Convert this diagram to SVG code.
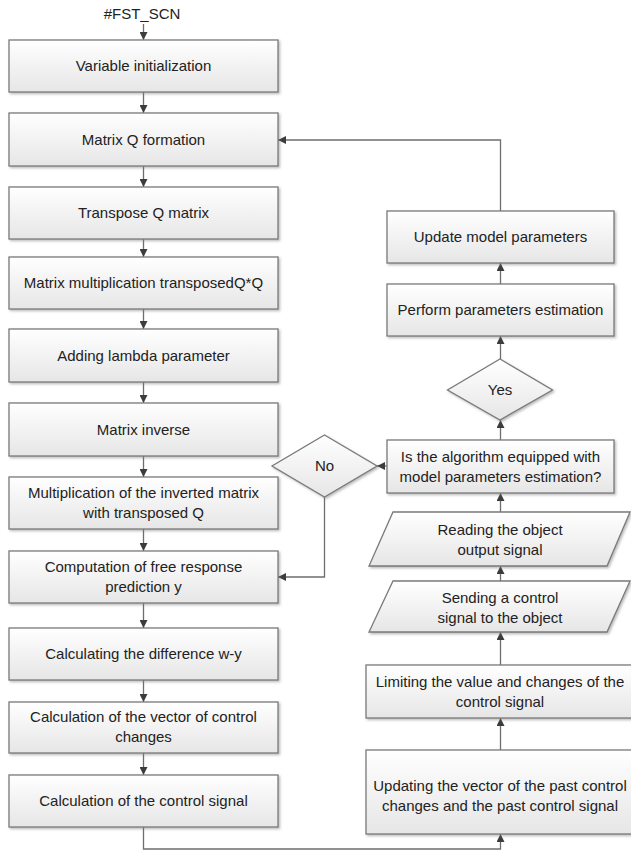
<svg xmlns="http://www.w3.org/2000/svg" width="631" height="851" viewBox="0 0 631 851">
<style>
.b{fill:url(#g);stroke:#7a7a7a;stroke-width:1.3;filter:url(#s)}
.t{font-family:"Liberation Sans",Arial,sans-serif;font-size:15px;fill:#222;text-anchor:middle}
.c{fill:none;stroke:#6e6e6e;stroke-width:1.3}
</style>
<defs>
<linearGradient id="g" x1="0" y1="0" x2="0" y2="1">
<stop offset="0" stop-color="#ffffff"/>
<stop offset="1" stop-color="#e6e6e6"/>
</linearGradient>
<filter id="s" x="-5%" y="-10%" width="115%" height="130%">
<feDropShadow dx="1.5" dy="1.5" stdDeviation="0.8" flood-color="#777" flood-opacity="0.5"/>
</filter>
<marker id="a" viewBox="0 0 10 10" refX="10" refY="5" markerWidth="8" markerHeight="8" markerUnits="userSpaceOnUse" orient="auto">
<path d="M0,0 L10,5 L0,10 z" fill="#3c3c3c"/>
</marker>
</defs>
<text class="t" x="142" y="19">#FST_SCN</text>
<g id="connectors">
<path class="c" d="M143.5,24 V40" marker-end="url(#a)"/>
<path class="c" d="M143.5,92 V113" marker-end="url(#a)"/>
<path class="c" d="M143.5,166 V187" marker-end="url(#a)"/>
<path class="c" d="M143.5,239 V257" marker-end="url(#a)"/>
<path class="c" d="M143.5,309 V329" marker-end="url(#a)"/>
<path class="c" d="M143.5,382 V403" marker-end="url(#a)"/>
<path class="c" d="M143.5,456 V477" marker-end="url(#a)"/>
<path class="c" d="M143.5,529 V551" marker-end="url(#a)"/>
<path class="c" d="M143.5,603 V628" marker-end="url(#a)"/>
<path class="c" d="M143.5,680 V702" marker-end="url(#a)"/>
<path class="c" d="M143.5,753 V775" marker-end="url(#a)"/>
<path class="c" d="M143.5,827 V849 H500.5 V834" marker-end="url(#a)"/>
<path class="c" d="M500.5,750 V718" marker-end="url(#a)"/>
<path class="c" d="M500.5,665 V632" marker-end="url(#a)"/>
<path class="c" d="M500.5,581 V566" marker-end="url(#a)"/>
<path class="c" d="M500.5,512 V493" marker-end="url(#a)"/>
<path class="c" d="M500.5,440 V420" marker-end="url(#a)"/>
<path class="c" d="M500.5,359 V336" marker-end="url(#a)"/>
<path class="c" d="M500.5,284 V263" marker-end="url(#a)"/>
<path class="c" d="M500.5,211 V140 H278" marker-end="url(#a)"/>
<path class="c" d="M387,466 H377" marker-end="url(#a)"/>
<path class="c" d="M324.5,497 V577 H278" marker-end="url(#a)"/>
</g>
<g id="n1"><rect class="b" x="9" y="40" width="269" height="52"/><text class="t" x="143.5" y="71">Variable initialization</text></g>
<g id="n2"><rect class="b" x="9" y="113" width="269" height="53"/><text class="t" x="143.5" y="145">Matrix Q formation</text></g>
<g id="n3"><rect class="b" x="9" y="187" width="269" height="52"/><text class="t" x="143.5" y="218">Transpose Q matrix</text></g>
<g id="n4"><rect class="b" x="9" y="257" width="269" height="52"/><text class="t" x="143.5" y="288">Matrix multiplication transposedQ*Q</text></g>
<g id="n5"><rect class="b" x="9" y="329" width="269" height="53"/><text class="t" x="143.5" y="361">Adding lambda parameter</text></g>
<g id="n6"><rect class="b" x="9" y="403" width="269" height="53"/><text class="t" x="143.5" y="435">Matrix inverse</text></g>
<g id="n7"><rect class="b" x="9" y="477" width="269" height="52"/><text class="t" x="143.5" y="498">Multiplication of the inverted matrix</text><text class="t" x="143.5" y="518">with transposed Q</text></g>
<g id="n8"><rect class="b" x="9" y="551" width="269" height="52"/><text class="t" x="143.5" y="572">Computation of free response</text><text class="t" x="143.5" y="592">prediction y</text></g>
<g id="n9"><rect class="b" x="9" y="628" width="269" height="52"/><text class="t" x="143.5" y="659">Calculating the difference w-y</text></g>
<g id="n10"><rect class="b" x="9" y="702" width="269" height="51"/><text class="t" x="143.5" y="722">Calculation of the vector of control</text><text class="t" x="143.5" y="742">changes</text></g>
<g id="n11"><rect class="b" x="9" y="775" width="269" height="52"/><text class="t" x="143.5" y="806">Calculation of the control signal</text></g>
<g id="r1"><rect class="b" x="387" y="211" width="227" height="52"/><text class="t" x="500.5" y="242">Update model parameters</text></g>
<g id="r2"><rect class="b" x="387" y="284" width="227" height="52"/><text class="t" x="500.5" y="315">Perform parameters estimation</text></g>
<g id="yes"><polygon class="b" points="500,359 552.5,390 500,420 447.5,390"/><text class="t" x="500" y="395">Yes</text></g>
<g id="q"><rect class="b" x="387" y="440" width="227" height="53"/><text class="t" x="500.5" y="462">Is the algorithm equipped with</text><text class="t" x="500.5" y="482">model parameters estimation?</text></g>
<g id="no"><polygon class="b" points="324.5,435 377,466 324.5,497 272,466"/><text class="t" x="324.5" y="471">No</text></g>
<g id="r3"><polygon class="b" points="393,512 630,512 607,566 369,566"/><text class="t" x="500" y="535">Reading the object</text><text class="t" x="500" y="555">output signal</text></g>
<g id="r4"><polygon class="b" points="393,581 630,581 607,632 369,632"/><text class="t" x="500" y="603">Sending a control</text><text class="t" x="500" y="623">signal to the object</text></g>
<g id="r5"><rect class="b" x="366" y="665" width="268" height="53"/><text class="t" x="500" y="687">Limiting the value and changes of the</text><text class="t" x="500" y="707">control signal</text></g>
<g id="r6"><rect class="b" x="366" y="750" width="268" height="84"/><text class="t" x="500" y="791">Updating the vector of the past control</text><text class="t" x="500" y="811">changes and the past control signal</text></g>
</svg>
